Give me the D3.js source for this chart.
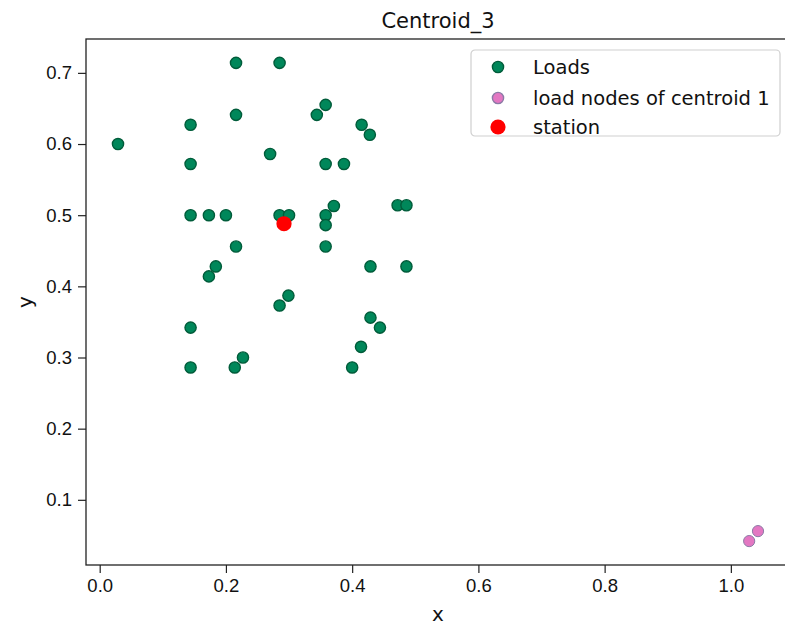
<!DOCTYPE html>
<html lang="en">
<head>
  <meta charset="UTF-8">
  <title>Centroid_3</title>
  <script src="https://d3js.org/d3.v7.min.js"></script>
  <style>
    body {
      margin: 0;
      background: #fff;
      font-family: "DejaVu Sans", sans-serif;
    }
    .tick-label {
      font-size: 18.5px;
      fill: #111;
    }
    .axis-title {
      font-size: 20px;
      fill: #111;
    }
    .legend-text {
      font-size: 19.5px;
      fill: #111;
    }
  </style>
</head>
<body>
  <svg width="785" height="626"></svg>
  <script>
    // Loads (green)
    const loadX = [0.029, 0.144, 0.144, 0.144, 0.144, 0.144, 0.173, 0.200, 0.216, 0.216,
                   0.216, 0.184, 0.173, 0.227, 0.214, 0.285, 0.270, 0.285, 0.300, 0.299,
                   0.285, 0.344, 0.358, 0.358, 0.387, 0.371, 0.358, 0.358, 0.358, 0.415,
                   0.428, 0.429, 0.472, 0.486, 0.486, 0.429, 0.444, 0.414, 0.400];
    const loadY = [0.600, 0.627, 0.572, 0.500, 0.342, 0.286, 0.500, 0.500, 0.714, 0.641,
                   0.456, 0.428, 0.414, 0.300, 0.286, 0.714, 0.586, 0.500, 0.500, 0.387,
                   0.373, 0.641, 0.655, 0.572, 0.572, 0.513, 0.500, 0.486, 0.456, 0.627,
                   0.613, 0.428, 0.514, 0.514, 0.428, 0.356, 0.342, 0.315, 0.286];
    // load nodes of centroid 1 (pink)
    const nodeX = [1.029, 1.043];
    const nodeY = [0.042, 0.056];
    // station (red)
    const stationX = [0.292];
    const stationY = [0.488];

    const xTicks = [0.0, 0.2, 0.4, 0.6, 0.8, 1.0];
    const yTicks = [0.1, 0.2, 0.3, 0.4, 0.5, 0.6, 0.7];
    const legendLabels = ["Loads", "load nodes of centroid 1", "station"];

    const svg = d3.select("svg");
    const plot = {left: 86, top: 39, right: 790, bottom: 565};

    // matplotlib-style 5% padding around the data
    const allX = loadX.concat(nodeX, stationX);
    const allY = loadY.concat(nodeY, stationY);
    const [x0, x1] = d3.extent(allX);
    const [y0, y1] = d3.extent(allY);
    const padX = (x1 - x0) * 0.05, padY = (y1 - y0) * 0.05;

    const x = d3.scaleLinear()
      .domain([x0 - padX, x1 + padX])
      .range([plot.left, plot.right]);
    const y = d3.scaleLinear()
      .domain([y0 - padY, y1 + padY])
      .range([plot.bottom, plot.top]);

    // axes
    const xAxis = svg.append("g")
      .attr("transform", `translate(0,${plot.bottom})`)
      .call(d3.axisBottom(x).tickValues(xTicks).tickFormat(d3.format(".1f")).tickSize(8).tickPadding(6));
    const yAxis = svg.append("g")
      .attr("transform", `translate(${plot.left},0)`)
      .call(d3.axisLeft(y).tickValues(yTicks).tickFormat(d3.format(".1f")).tickSize(8).tickPadding(6));

    [xAxis, yAxis].forEach(g => {
      g.select(".domain").remove();
      g.selectAll(".tick line").attr("stroke", "#222").attr("stroke-width", 1.2);
      g.selectAll(".tick text").attr("class", "tick-label").attr("font-family", null).attr("font-size", null);
    });

    // frame
    svg.append("rect")
      .attr("x", plot.left)
      .attr("y", plot.top)
      .attr("width", plot.right - plot.left)
      .attr("height", plot.bottom - plot.top)
      .attr("fill", "none")
      .attr("stroke", "#222")
      .attr("stroke-width", 1.3);

    // points
    svg.append("g").selectAll("circle")
      .data(loadX.map((v, i) => [v, loadY[i]]))
      .join("circle")
      .attr("cx", d => x(d[0]))
      .attr("cy", d => y(d[1]))
      .attr("r", 5.6)
      .attr("fill", "#00875a")
      .attr("stroke", "#005c3a")
      .attr("stroke-width", 1.4);

    svg.append("g").selectAll("circle")
      .data(nodeX.map((v, i) => [v, nodeY[i]]))
      .join("circle")
      .attr("cx", d => x(d[0]))
      .attr("cy", d => y(d[1]))
      .attr("r", 5.6)
      .attr("fill", "#e377c2")
      .attr("stroke", "#8c7aa6")
      .attr("stroke-width", 1);

    svg.append("g").selectAll("circle")
      .data(stationX.map((v, i) => [v, stationY[i]]))
      .join("circle")
      .attr("cx", d => x(d[0]))
      .attr("cy", d => y(d[1]))
      .attr("r", 7.6)
      .attr("fill", "#ff0000");

    // titles
    svg.append("text")
      .attr("x", (plot.left + plot.right) / 2)
      .attr("y", 28)
      .attr("text-anchor", "middle")
      .style("font-size", "21px")
      .attr("fill", "#111")
      .text("Centroid_3");

    svg.append("text")
      .attr("class", "axis-title")
      .attr("x", (plot.left + plot.right) / 2)
      .attr("y", 621)
      .attr("text-anchor", "middle")
      .text("x");

    svg.append("text")
      .attr("class", "axis-title")
      .attr("transform", `translate(32,${(plot.top + plot.bottom) / 2}) rotate(-90)`)
      .attr("text-anchor", "middle")
      .text("y");

    // legend
    const legend = svg.append("g").attr("transform", "translate(471,50)");
    legend.append("rect")
      .attr("width", 309)
      .attr("height", 86)
      .attr("rx", 4)
      .attr("fill", "#fff")
      .attr("stroke", "#cfcfcf")
      .attr("stroke-width", 1.2);

    const legendStyle = [
      {fill: "#00875a", stroke: "#005c3a", r: 5.6},
      {fill: "#e377c2", stroke: "#8c7aa6", r: 5.6},
      {fill: "#ff0000", stroke: "none", r: 7.6}
    ];
    const rows = legend.selectAll("g.row")
      .data(legendLabels)
      .join("g")
      .attr("class", "row")
      .attr("transform", (d, i) => `translate(0,${[17, 48, 77][i]})`);
    rows.append("circle")
      .attr("cx", 27)
      .attr("r", (d, i) => legendStyle[i].r)
      .attr("fill", (d, i) => legendStyle[i].fill)
      .attr("stroke", (d, i) => legendStyle[i].stroke)
      .attr("stroke-width", 1.4);
    rows.append("text")
      .attr("class", "legend-text")
      .attr("x", 62)
      .attr("dy", "0.35em")
      .text(d => d);
  </script>
</body>
</html>
